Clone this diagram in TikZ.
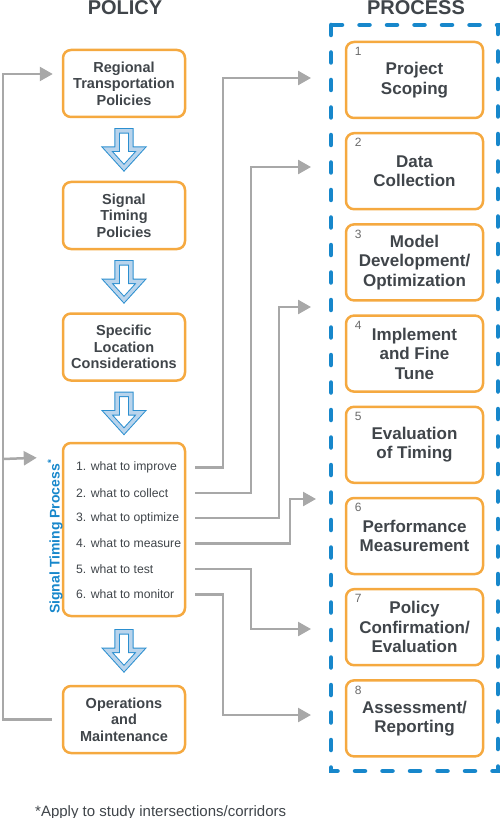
\documentclass[tikz,border=0pt]{standalone}
\usepackage{fontspec}
\setmainfont{Liberation Sans}
\usetikzlibrary{arrows.meta,calc,positioning}

\definecolor{boxorange}{HTML}{F5A940}
\definecolor{textgray}{HTML}{40454A}
\definecolor{numgray}{HTML}{6A6A6A}
\definecolor{linegray}{HTML}{A8A8A8}
\definecolor{frameblue}{HTML}{1787CB}
\definecolor{arrowblue}{HTML}{2B8FD0}
\definecolor{arrowfill}{HTML}{B9D4EC}

\tikzset{
  downarrow/.pic={
    \draw[draw=arrowblue, double=arrowfill, double distance=3.5pt, line width=1pt,
          fill=white, line join=miter]
      (-6.8,2.6) -- (-6.8,21) -- (-16.8,21) -- (0,39.5) -- (16.8,21) -- (6.8,21) -- (6.8,2.6) -- cycle;
  }
}

\begin{document}
\begin{tikzpicture}[x=1pt, y=-1pt,
  policybox/.style={draw=boxorange, line width=2.5pt, rounded corners=8pt,
    minimum width=122pt, minimum height=67pt, inner sep=0pt, align=center,
    text=textgray, font=\fontsize{14.5}{16.5}\selectfont\bfseries},
  stepbox/.style={draw=boxorange, line width=2.5pt, rounded corners=8pt,
    minimum width=137pt, minimum height=76pt, inner sep=0pt, align=center,
    text=textgray, font=\fontsize{17}{19.5}\selectfont\bfseries},
  stepnum/.style={anchor=base west, inner sep=0pt, text=numgray,
    font=\fontsize{12}{12}\selectfont},
  item/.style={anchor=west, inner sep=0pt, text=textgray,
    font=\fontsize{12.2}{14}\selectfont},
  heading/.style={anchor=base, inner sep=0pt, text=textgray,
    font=\fontsize{20}{20}\selectfont\bfseries},
  feed/.style={draw=linegray, line width=2.5pt, -{Triangle[length=13pt, width=14pt]}},
  frame/.style={draw=frameblue, line width=4.5pt, line cap=round,
    dash pattern=on 10pt off 17.5pt}
  ]

  \useasboundingbox (0,0) rectangle (500,818);

  % Headings
  \node[heading] (policy) at (125,15) {POLICY};
  \node[heading] (process) at (416,15) {PROCESS};

  % Policy column
  \node[policybox] (regional) at (124,83.5) {Regional\\Transportation\\Policies};
  \node[policybox] (signalpol) at (124,215.5) {Signal\\Timing\\Policies};
  \node[policybox] (specific) at (124,347) {Specific\\Location\\Considerations};
  \node[policybox, minimum height=173pt] (stp) at (124,529.5) {};
  \node[policybox] (ops) at (124,719.5) {Operations\\and\\Maintenance};

  \pic at ([yshift=-10pt]regional.south) {downarrow};
  \pic at ([yshift=-10pt]signalpol.south) {downarrow};
  \pic at ([yshift=-10pt]specific.south) {downarrow};
  \pic at ([yshift=-12pt]stp.south) {downarrow};

  % List of the signal timing process
  \foreach \i/\t in {1/what to improve, 2/what to collect, 3/what to optimize,
                     4/what to measure, 5/what to test, 6/what to monitor}
    \node[item] (w\i) at (76,442+25.4*\i) {\i. \t};

  \node[rotate=90, anchor=west, inner sep=0pt, text=frameblue,
        font=\fontsize{14}{14}\selectfont\bfseries] (stplabel) at (55,614)
        {Signal Timing Process\textsuperscript{*}};

  % Process column
  \draw[frame] (331,25) rectangle (498,771);
  \foreach \i/\t in {1/{Project\\Scoping}, 2/{Data\\Collection},
                     3/{Model\\Development/\\Optimization}, 4/{Implement\\and Fine\\Tune},
                     5/{Evaluation\\of Timing}, 6/{Performance\\Measurement},
                     7/{Policy\\Confirmation/\\Evaluation}, 8/{Assessment/\\Reporting}} {
    \node[stepbox] (p\i) at (414.5,80+91.2*\i-91.2) {\t};
    \node[stepnum] at ($(p\i.north west)+(10,15)$) {\i};
  }

  % Feeds from the list into the process
  \foreach \i/\ex/\ey in {1/311/78, 2/311/167, 3/311/307, 4/316/499, 5/311/629, 6/311/715}
    \coordinate (in\i) at (\ex,\ey);
  \foreach \i/\bx in {1/223, 2/251, 3/279, 4/290, 5/251, 6/223}
    \draw[feed] ($(w\i -| stp.east)+(9,0)$) -| (in\i -| \bx,0) -- (in\i);

  % Feedback loop
  \draw[feed] ($(ops.west)+(-10,0)$) -| (3,74) -- ($(regional.west)+(-9,-9.5)$);
  \draw[feed] (3,459) -- ($(stp.north west)+(-25,16)$);

  % Footnote
  \node[anchor=base west, inner sep=0pt, text=textgray,
        font=\fontsize{15}{15}\selectfont] (note) at (35,816)
        {*Apply to study intersections/corridors};

\end{tikzpicture}
\end{document}
